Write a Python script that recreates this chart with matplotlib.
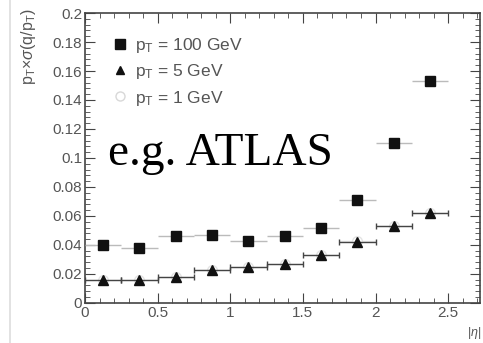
import matplotlib
matplotlib.use("Agg")
import matplotlib.pyplot as plt
from matplotlib.ticker import MultipleLocator
from matplotlib.lines import Line2D

eta_centers = [0.125, 0.375, 0.625, 0.875, 1.125, 1.375, 1.625, 1.875, 2.125, 2.375]
eta_halfwidth = [0.125] * 10
res_100 = [0.040, 0.038, 0.046, 0.047, 0.043, 0.046, 0.052, 0.071, 0.110, 0.153]
res_5 = [0.016, 0.016, 0.018, 0.023, 0.025, 0.027, 0.033, 0.042, 0.053, 0.062]
res_1 = [0.016, 0.016, 0.018, 0.023, 0.025, 0.027, 0.033, 0.043, 0.053, 0.062]
labels = [r"p$_{\rm T}$ = 100 GeV", r"p$_{\rm T}$ = 5 GeV", r"p$_{\rm T}$ = 1 GeV"]

plt.rcParams['font.family'] = ['Liberation Sans', 'DejaVu Sans']
plt.rcParams['mathtext.fontset'] = 'custom'
plt.rcParams['mathtext.rm'] = 'Liberation Sans'
plt.rcParams['mathtext.it'] = 'Liberation Sans:italic'

fig = plt.figure(figsize=(4.83, 3.43), dpi=100)
ax = fig.add_axes([0.176, 0.117, 0.818, 0.845])

axcol = '#444444'
txtcol = '#555555'

ax.errorbar(eta_centers, res_1, xerr=eta_halfwidth, fmt='o', ms=7, mfc='white',
            mec='#e4e4e4', ecolor='#e8e8e8', elinewidth=1, zorder=2)
ax.errorbar(eta_centers, res_5, xerr=eta_halfwidth, fmt='^', ms=6.5, color='#111111',
            ecolor='#444444', elinewidth=1, capsize=2, zorder=3)
ax.errorbar(eta_centers, res_100, xerr=eta_halfwidth, fmt='s', ms=7.5, color='#111111',
            ecolor='#bbbbbb', elinewidth=1, zorder=4)

ax.set_xlim(0, 2.72)
ax.set_ylim(0, 0.2)
ax.xaxis.set_minor_locator(MultipleLocator(0.1))
ax.yaxis.set_minor_locator(MultipleLocator(0.004))
ax.set_xticks([0, 0.5, 1, 1.5, 2, 2.5])
ax.set_xticklabels(['0', '0.5', '1', '1.5', '2', '2.5'])
ax.set_yticks([0, 0.02, 0.04, 0.06, 0.08, 0.1, 0.12, 0.14, 0.16, 0.18, 0.2])
ax.set_yticklabels(['0', '0.02', '0.04', '0.06', '0.08', '0.1', '0.12', '0.14', '0.16', '0.18', '0.2'])
ax.tick_params(which='both', direction='in', top=True, right=True, colors=axcol,
               labelcolor=txtcol, labelsize=11, pad=2)
ax.tick_params(which='major', length=7)
ax.tick_params(which='minor', length=3.5)
for s in ax.spines.values():
    s.set_color(axcol)
    s.set_linewidth(1.2)

# legend
handles = [Line2D([], [], marker='s', ls='none', color='#111111', ms=6.5),
           Line2D([], [], marker='^', ls='none', color='#111111', ms=5.5),
           Line2D([], [], marker='o', ls='none', mfc='white', mec='#d8d8d8', ms=6.5)]
leg = ax.legend(handles, labels, loc='upper left', bbox_to_anchor=(0.055, 0.945),
                frameon=False, fontsize=12.5, handlelength=0.7, handletextpad=0.5,
                labelspacing=0.42, borderaxespad=0)
for t in leg.get_texts():
    t.set_color(txtcol)

ax.text(0.058, 0.476, "e.g. ATLAS", transform=ax.transAxes, fontsize=34,
        family='Liberation Serif', color='black', ha='left', va='baseline')

fig.text(0.997, 0.03, r"|$\eta$|", fontsize=9, color=txtcol, ha='right', va='center')
fig.text(0.058, 0.977, r"p$_{\rm T}$$\times\sigma$(q/p$_{\rm T}$)", rotation=90,
         fontsize=11.5, color=txtcol, ha='center', va='top')

fig.add_artist(Line2D([0.021, 0.021], [0.0, 1.0], transform=fig.transFigure,
                      color='#dddddd', lw=1.2))

fig.savefig("out.png", dpi=100)
